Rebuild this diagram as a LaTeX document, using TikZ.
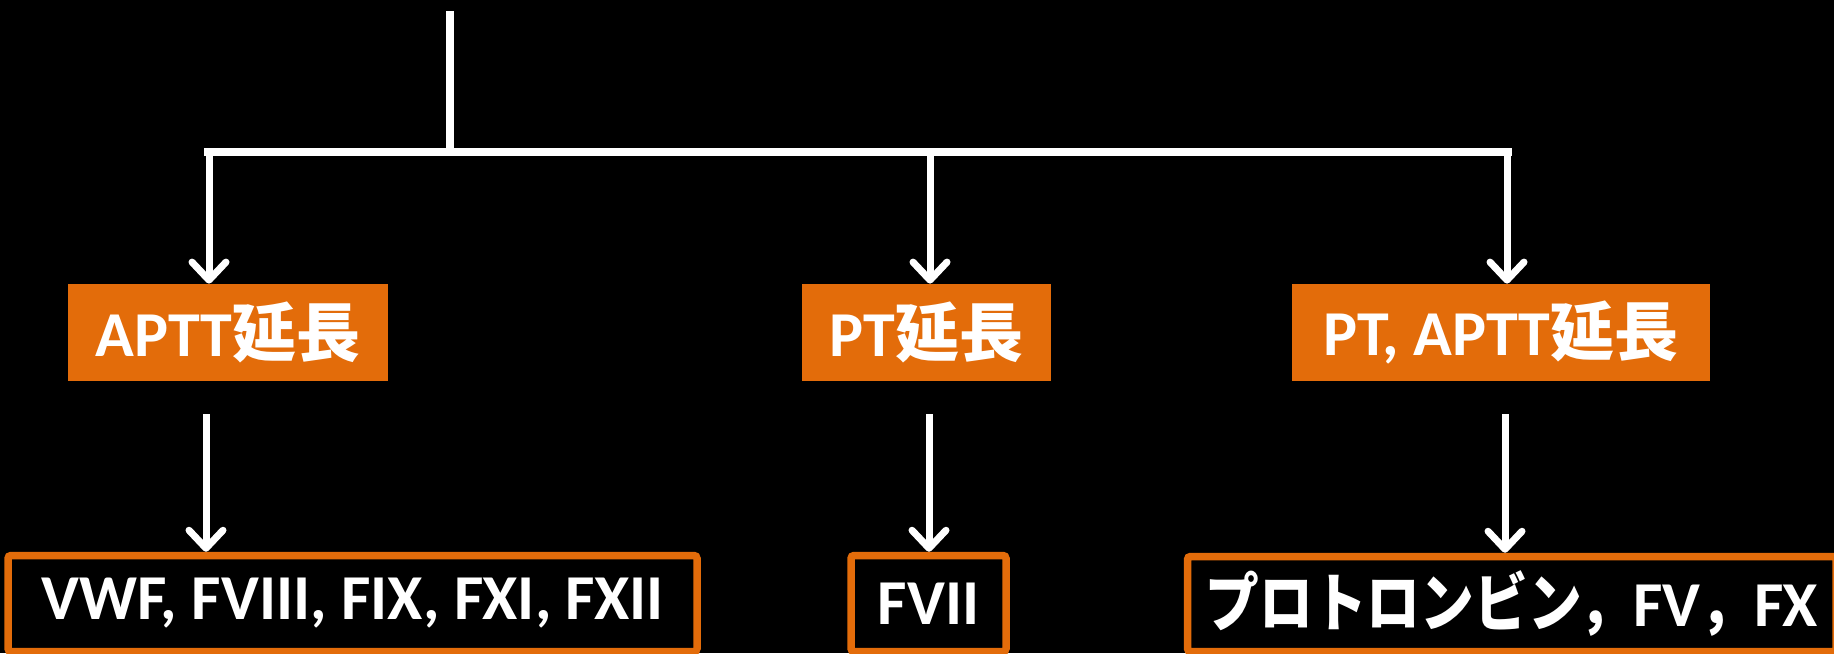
\documentclass[tikz,border=0pt]{standalone}
\usepackage{fontspec}
\setmainfont{Carlito}
\newfontfamily\jp{Noto Sans CJK JP}
\newfontfamily\jpn{Noto Sans CJK JP}[FakeStretch=0.84]
\usetikzlibrary{arrows.meta,calc}
\definecolor{orng}{HTML}{E36C0A}
\begin{document}
\begin{tikzpicture}[x=0.5pt,y=-0.5pt,
  wline/.style={draw=white, line width=3.75pt},
  arr/.style={draw=white, line width=3.5pt, -{Straight Barb[length=9pt,width=17pt,round]}},
  obox/.style={fill=orng, text=white, inner sep=0pt, minimum height=48.5pt,
    font=\bfseries\fontsize{32}{38}\selectfont},
  bbox/.style={draw=orng, line width=3.75pt, rounded corners=1.5pt, text=white, inner sep=0pt,
    minimum height=48pt, font=\bfseries\fontsize{32}{38}\selectfont}]
\useasboundingbox (0,0) rectangle (1834,653);
\fill[black] (0,0) rectangle (1834,653);

% orange result boxes
\node[obox, minimum width=160pt]   (o1) at (228,332.5)  {APTT{\jp\bfseries 延長}};
\node[obox, minimum width=124.5pt] (o2) at (926.5,332.5) {PT{\jp\bfseries 延長}};
\node[obox, minimum width=209pt]   (o3) at (1501,332.5) {PT, APTT{\jp\bfseries 延長}};

% outlined factor boxes
\node[bbox, minimum width=344.5pt] (bA) at (352.5,603.5) {VWF, FVIII, FIX, FXI, FXII};
\node[bbox, minimum width=77.5pt]  (bB) at (928.5,603.5) {FVII};
\node[bbox, minimum width=324.25pt, minimum height=47.5pt] (bC) at (1511.75,604)
      {{\jpn\bfseries プロトロンビン，}FV{\jpn\bfseries ，}FX};

% tree lines
\coordinate (top) at (450,11);
\coordinate (j) at (450,152);
\coordinate (bl) at (204,152);
\coordinate (br) at (1512,152);
\draw[draw=white, line width=4pt] (top) -- (j);
\draw[wline] (bl) -- (br);

\coordinate (t1) at (209,152);
\coordinate (t2) at (930,152);
\coordinate (t3) at (1507,148);
\draw[arr] (t1) -- (t1 |- o1.north);
\draw[arr] (t2) -- (t2 |- o2.north);
\draw[arr] (t3) -- (t3 |- o3.north);

\coordinate (s1) at (206,414);
\coordinate (s2) at (929,414);
\coordinate (s3) at (1505,414);
\draw[arr] (s1) -- (s1 |- bA.north);
\draw[arr] (s2) -- (s2 |- bB.north);
\draw[arr] (s3) -- (s3 |- bC.north);
\end{tikzpicture}
\end{document}
